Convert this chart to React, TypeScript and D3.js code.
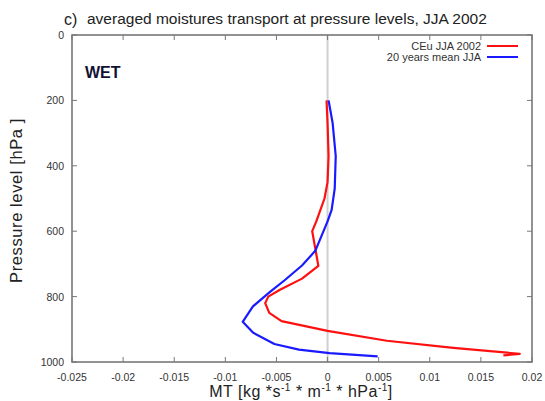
import React from "react";
import * as d3 from "d3";

const redP = [200, 270, 370, 450, 500, 570, 600, 706, 745, 780, 800, 820, 850, 875, 905, 935, 957, 975, 980];
const redV = [-0.0001, 0.0, 0.0001, 0.0, -0.0003, -0.0011, -0.0015, -0.0009, -0.0025, -0.0047, -0.0058, -0.0061, -0.0057, -0.0045, 0.0, 0.0058, 0.0123, 0.0188, 0.0172];
const blueP = [200, 270, 370, 470, 535, 570, 660, 705, 750, 785, 830, 877, 910, 945, 962, 973, 983];
const blueV = [0.0001, 0.0005, 0.0008, 0.0007, 0.0004, 0.0, -0.0012, -0.0025, -0.0042, -0.0056, -0.0073, -0.0083, -0.0073, -0.0052, -0.0028, 0.0002, 0.0049];
const xTicks = [-0.025, -0.02, -0.015, -0.01, -0.005, 0, 0.005, 0.01, 0.015, 0.02];
const yTicks = [0, 200, 400, 600, 800, 1000];
const seriesNames = ["CEu JJA 2002", "20 years mean JJA"];

const W = 545, H = 401;
const L = 72, R = 532, T = 35, B = 362;

export default function App() {
  const x = d3.scaleLinear().domain([-0.025, 0.02]).range([L, R]);
  const y = d3.scaleLinear().domain([0, 1000]).range([T, B]);
  const line = d3.line<[number, number]>().x(d => x(d[0])).y(d => y(d[1]));
  const red = redV.map((v, i) => [v, redP[i]] as [number, number]);
  const blue = blueV.map((v, i) => [v, blueP[i]] as [number, number]);
  const font = "Liberation Sans, Arial, sans-serif";
  const axisCol = "#777";
  return (
    <svg width={W} height={H} style={{ position: "absolute", left: 0, top: 0, background: "#fff" }} fontFamily={font}>
      <rect x={0} y={0} width={W} height={H} fill="#fff" />
      <text x={64} y={25} fontSize={16} fill="#222">c)</text>
      <text x={87} y={24} fontSize={15.5} fill="#222">averaged moistures transport at pressure levels, JJA 2002</text>
      {/* zero line */}
      <line x1={x(0)} x2={x(0)} y1={T} y2={B} stroke="#cfcfcf" strokeWidth={2} />
      {/* ticks */}
      {xTicks.map((t, i) => (
        <g key={"xt" + i}>
          <line x1={x(t)} x2={x(t)} y1={B} y2={B - 5} stroke={axisCol} strokeWidth={1} />
          <line x1={x(t)} x2={x(t)} y1={T} y2={T + 5} stroke={axisCol} strokeWidth={1} />
          <text x={x(t)} y={381} fontSize={10.5} fill="#333" textAnchor="middle">{String(t)}</text>
        </g>
      ))}
      {yTicks.map((t, i) => (
        <g key={"yt" + i}>
          <line x1={L} x2={L + 5} y1={y(t)} y2={y(t)} stroke={axisCol} strokeWidth={1} />
          <line x1={R} x2={R - 5} y1={y(t)} y2={y(t)} stroke={axisCol} strokeWidth={1} />
          <text x={64} y={y(t) + 4} fontSize={10.5} fill="#333" textAnchor="end">{t}</text>
        </g>
      ))}
      <rect x={L} y={T} width={R - L} height={B - T} fill="none" stroke={axisCol} strokeWidth={1.6} />
      <path d={line(red) || ""} fill="none" stroke="#ff1010" strokeWidth={2.2} strokeLinejoin="round" />
      <path d={line(blue) || ""} fill="none" stroke="#1a1aff" strokeWidth={2.2} strokeLinejoin="round" />
      {/* legend */}
      <text x={481} y={50} fontSize={11} fill="#333" textAnchor="end">{seriesNames[0]}</text>
      <line x1={487} x2={518} y1={46} y2={46} stroke="#ff1010" strokeWidth={2} />
      <text x={481} y={61} fontSize={11} fill="#333" textAnchor="end">{seriesNames[1]}</text>
      <line x1={487} x2={518} y1={57} y2={57} stroke="#1a1aff" strokeWidth={2} />
      <text x={85} y={78} fontSize={16} fontWeight="bold" fill="#111133">WET</text>
      <text transform={`translate(22,${(T + B) / 2 + 2}) rotate(-90)`} fontSize={16.5} letterSpacing={0.6} fill="#222" textAnchor="middle">Pressure level  [hPa ]</text>
      <text x={301} y={397} fontSize={16} letterSpacing={0.5} fill="#222" textAnchor="middle">
        MT [kg *s<tspan dy={-6} fontSize={10}>-1</tspan><tspan dy={6}> * m</tspan><tspan dy={-6} fontSize={10}>-1</tspan><tspan dy={6}> * hPa</tspan><tspan dy={-6} fontSize={10}>-1</tspan><tspan dy={6}>]</tspan>
      </text>
    </svg>
  );
}
